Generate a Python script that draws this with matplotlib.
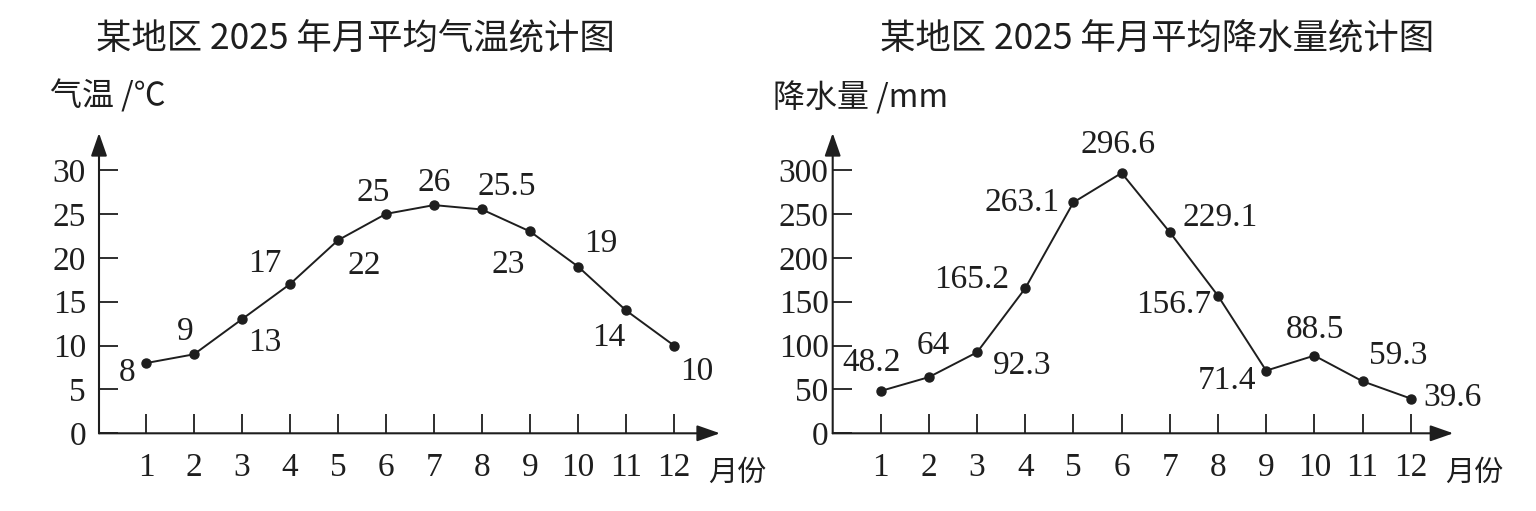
import matplotlib
matplotlib.use('Agg')
import matplotlib.pyplot as plt

# ---------------- data ----------------
months = list(range(1, 13))
month_labels = [str(m) for m in months]
temp = [8, 9, 13, 17, 22, 25, 26, 25.5, 23, 19, 14, 10]
temp_labels = ['8', '9', '13', '17', '22', '25', '26', '25.5', '23', '19', '14', '10']
rain = [48.2, 64, 92.3, 165.2, 263.1, 296.6, 229.1, 156.7, 71.4, 88.5, 59.3, 39.6]
rain_labels = ['48.2', '64', '92.3', '165.2', '263.1', '296.6', '229.1', '156.7',
               '71.4', '88.5', '59.3', '39.6']
temp_ticks = [0, 5, 10, 15, 20, 25, 30]
rain_ticks = [0, 50, 100, 150, 200, 250, 300]
title_left = '某地区 2025 年月平均气温统计图'
title_right = '某地区 2025 年月平均降水量统计图'
ylabel_left = '气温 /℃'
ylabel_right = '降水量 /mm'
xlabel = '月份'

# ---------------- label placement (offset points, ha) ----------------
temp_pos = [(-7.7, -4.8, 'right'), (-6.7, 18.4, 'center'), (16.1, -15.1, 'center'),
            (-18.0, 16.8, 'center'), (19.2, -16.1, 'center'), (-9.1, 17.3, 'center'),
            (0.0, 18.5, 'center'), (-3.1, 18.3, 'left'), (-15.8, -22.1, 'center'),
            (16.1, 18.2, 'center'), (-12.7, -17.5, 'center'), (4.3, -17.1, 'left')]
rain_pos = [(-6.5, 22.3, 'center'), (3.2, 24.3, 'center'), (11.4, -7.5, 'left'),
            (-11.7, 8.4, 'right'), (-9.6, 1.7, 'right'), (-2.5, 22.3, 'center'),
            (9.5, 12.4, 'left'), (-4.5, -4.2, 'right'), (-7.3, -5.5, 'right'),
            (0.4, 20.8, 'center'), (25.8, 20.2, 'center'), (9.1, 2.5, 'left')]

ink = '#1e1e1e'
CJK = ['Noto Sans CJK SC', 'DejaVu Sans']
plt.rcParams['font.family'] = ['Liberation Serif', 'Noto Sans CJK SC', 'DejaVu Sans']

W, H = 1536, 511
fig = plt.figure(figsize=(W / 100, H / 100), dpi=100)
fig.patch.set_facecolor('white')

axL = fig.add_axes([99 / W, (H - 433.3) / H, 621 / W, 300.3 / H])
axL.set_xlim(1 - 47 / 48.0, 1 + 574 / 48.0)
axL.set_ylim(0, 300.3 / 8.777)

axR = fig.add_axes([832.7 / W, (H - 433.3) / H, 620.6 / W, 300.3 / H])
axR.set_xlim(1 - 48 / 48.18, 1 + 572.6 / 48.18)
axR.set_ylim(0, 300.3 / 0.8777)


def style_axes(ax, yticks, ypad, ylabel, ylab_off):
    for s in ax.spines.values():
        s.set_visible(False)
    ax.set_facecolor('none')
    arrow = dict(arrowstyle='-|>,head_length=1.0,head_width=0.35', mutation_scale=14,
                 lw=1.5, color=ink, shrinkA=0, shrinkB=0)
    ax.annotate('', xy=(1, 0), xytext=(0, 0), xycoords='axes fraction',
                arrowprops=arrow, annotation_clip=False)
    ax.annotate('', xy=(0, 1), xytext=(0, 0), xycoords='axes fraction',
                arrowprops=arrow, annotation_clip=False)
    ax.set_xticks(months)
    ax.set_xticklabels(month_labels)
    ax.set_yticks(yticks)
    ax.set_yticklabels([str(t) for t in yticks])
    ax.tick_params(axis='x', direction='in', length=13.5, width=1.3, pad=13.5,
                   labelsize=24, colors=ink)
    ax.tick_params(axis='y', direction='in', length=13.5, width=1.3, pad=ypad,
                   labelsize=24, colors=ink)
    ax.annotate(xlabel, xy=(12, 0), xycoords='data', xytext=(24.8, -28.5),
                textcoords='offset points', ha='left', va='center', fontsize=21,
                family=CJK, color=ink, annotation_clip=False)
    ax.annotate(ylabel, xy=(0, 1), xycoords='axes fraction', xytext=ylab_off,
                textcoords='offset points', ha='left', va='center', fontsize=23,
                family=CJK, color=ink, annotation_clip=False)


style_axes(axL, temp_ticks, 9.4, ylabel_left, (-35.3, 26.6))
style_axes(axR, rain_ticks, 3.0, ylabel_right, (-43.0, 25.2))

for ax, vals, labels, pos in [(axL, temp, temp_labels, temp_pos),
                              (axR, rain, rain_labels, rain_pos)]:
    ax.plot(months, vals, '-o', color=ink, lw=1.4, ms=6.5, clip_on=False, zorder=3)
    for m, v, lbl, (dx, dy, ha) in zip(months, vals, labels, pos):
        ax.annotate(lbl, xy=(m, v), xytext=(dx, dy - 8), textcoords='offset points',
                    ha=ha, va='baseline', fontsize=24, color=ink, annotation_clip=False)

fig.text(355.5 / W, 1 - 38 / H, title_left, ha='center', va='center', fontsize=25.5,
         family=CJK, color=ink)
fig.text(1156.6 / W, 1 - 38 / H, title_right, ha='center', va='center', fontsize=25.5,
         family=CJK, color=ink)

fig.savefig('out.png', dpi=100, facecolor='white')
